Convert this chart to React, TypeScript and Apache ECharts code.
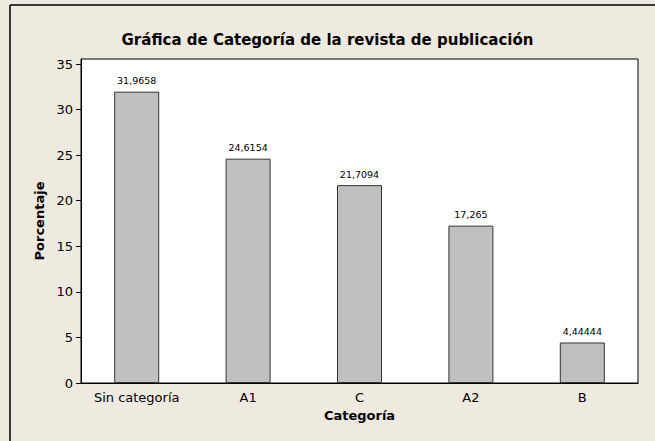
import React, { useEffect, useRef } from "react";
import * as echarts from "echarts";

const categories = ["Sin categoría", "A1", "C", "A2", "B"];
const values = [31.9658, 24.6154, 21.7094, 17.265, 4.44444];
const valueLabels = ["31,9658", "24,6154", "21,7094", "17,265", "4,44444"];
const yTicks = [0, 5, 10, 15, 20, 25, 30, 35];

const FONT = "DejaVu Sans";

export default function App() {
  const ref = useRef<HTMLDivElement>(null);
  useEffect(() => {
    if (!ref.current) return;
    document.body.style.margin = "0";
    document.documentElement.style.overflow = "hidden";
    document.body.style.overflow = "hidden";
    const chart = echarts.init(ref.current, null, { renderer: "svg" });
    chart.setOption({
      animation: false,
      backgroundColor: "#EEEAE0",
      title: {
        text: "Gráfica de Categoría de la revista de publicación",
        left: "center",
        top: 27,
        textStyle: { fontFamily: FONT, fontSize: 15, fontWeight: "bold", color: "#000" },
      },
      graphic: [
        {
          type: "line",
          shape: { x1: 10, y1: 5, x2: 655, y2: 5 },
          style: { stroke: "#000", lineWidth: 1.5 },
          silent: true,
        },
        {
          type: "line",
          shape: { x1: 10, y1: 5, x2: 10, y2: 441 },
          style: { stroke: "#000", lineWidth: 1.5 },
          silent: true,
        },
      ],
      grid: {
        left: 81,
        top: 59,
        right: 17,
        bottom: 58,
        show: true,
        backgroundColor: "#fff",
        borderColor: "#000",
        borderWidth: 1,
      },
      xAxis: {
        type: "category",
        data: categories,
        name: "Categoría",
        nameLocation: "middle",
        nameGap: 25,
        nameTextStyle: { fontFamily: FONT, fontSize: 13, fontWeight: "bold", color: "#000" },
        axisLine: { lineStyle: { color: "#000" } },
        axisTick: { alignWithLabel: true, length: 5, lineStyle: { color: "#000" } },
        axisLabel: { fontFamily: FONT, fontSize: 13, color: "#000", margin: 8 },
      },
      yAxis: {
        type: "value",
        min: 0,
        max: 35.55,
        name: "Porcentaje",
        nameLocation: "middle",
        nameGap: 35,
        nameTextStyle: { fontFamily: FONT, fontSize: 13, fontWeight: "bold", color: "#000" },
        splitLine: { show: false },
        axisLine: { show: true, lineStyle: { color: "#000" } },
        axisTick: { show: true, length: 5, lineStyle: { color: "#000" }, customValues: yTicks },
        axisLabel: { fontFamily: FONT, fontSize: 13, color: "#000", margin: 8, customValues: yTicks },
      },
      series: [
        {
          type: "bar",
          data: values,
          barWidth: 45,
          itemStyle: { color: "#C0C0C0", borderColor: "#333", borderWidth: 1 },
          label: {
            show: true,
            position: "top",
            distance: 6,
            fontFamily: FONT,
            fontSize: 9.5,
            color: "#000",
            formatter: (p: any) => valueLabels[p.dataIndex],
          },
        },
      ],
    });
    return () => chart.dispose();
  }, []);
  return (
    <div
      ref={ref}
      style={{ width: 655, height: 441, position: "absolute", left: 0, top: 0, overflow: "hidden" }}
    />
  );
}
